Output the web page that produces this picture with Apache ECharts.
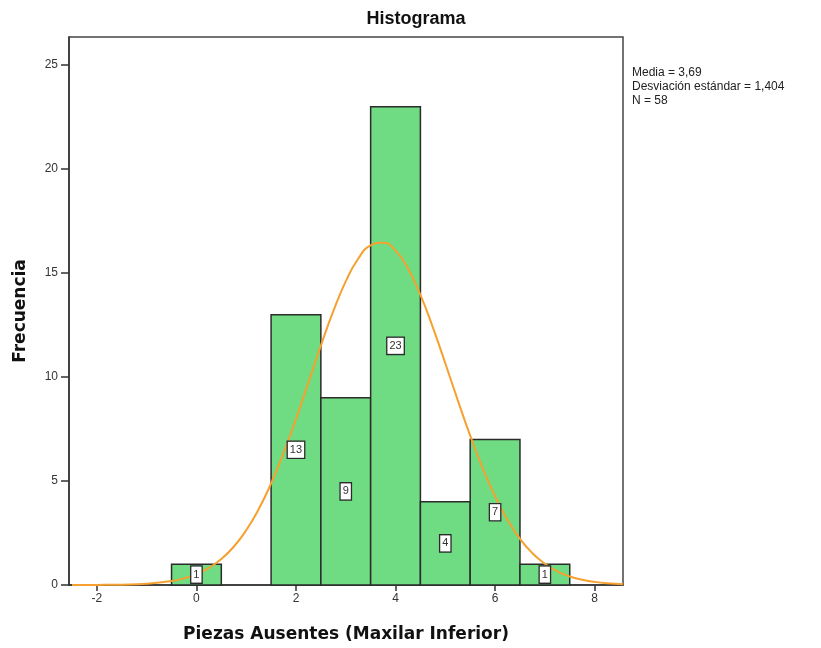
<!DOCTYPE html>
<html>
<head>
<meta charset="utf-8">
<script src="https://cdn.jsdelivr.net/npm/echarts@6/dist/echarts.min.js"></script>
<style>
html,body{margin:0;padding:0;background:#fff;}
#main{width:821px;height:648px;}
</style>
</head>
<body>
<div id="main"></div>
<script>
// Histogram bins (bin centres, width 1) and frequencies
const binCenters = [0, 1, 2, 3, 4, 5, 6, 7];
const frequencies = [1, 0, 13, 9, 23, 4, 7, 1];

// Normal curve
const curveX = [-2.5, -2, -1.5, -1, -0.5, -0.25, 0, 0.25, 0.5, 0.75, 1, 1.25, 1.5, 1.75, 2, 2.25, 2.5, 2.75, 3, 3.25, 3.5, 3.75, 4, 4.25, 4.5, 4.75, 5, 5.25, 5.5, 5.75, 6, 6.25, 6.5, 6.75, 7, 7.25, 7.5, 7.75, 8, 8.25, 8.57];
const curveY = [0.001, 0.005, 0.018, 0.062, 0.19, 0.32, 0.52, 0.82, 1.25, 1.84, 2.63, 3.64, 4.88, 6.35, 7.99, 9.74, 11.51, 13.17, 14.6, 15.69, 16.33, 16.46, 16.08, 15.22, 13.95, 12.39, 10.66, 8.89, 7.18, 5.62, 4.26, 3.13, 2.22, 1.53, 1.02, 0.66, 0.41, 0.25, 0.15, 0.084, 0.035];

// Tick labels
const xTicks = [-2, 0, 2, 4, 6, 8];
const yTicks = [0, 5, 10, 15, 20, 25];

const titleText = 'Histograma';
const xName = 'Piezas Ausentes (Maxilar Inferior)';
const yName = 'Frecuencia';
const statsLines = ['Media = 3,69', 'Desviación estándar = 1,404', 'N = 58'];

const barData = binCenters.map((c, i) => [c, frequencies[i]]);
const curveData = curveX.map((x, i) => [x, curveY[i]]);

const chart = echarts.init(document.getElementById('main'), null, {renderer: 'canvas'});
const font = '"Liberation Sans", Arial, sans-serif';

chart.setOption({
  animation: false,
  backgroundColor: '#fff',
  title: {
    text: titleText,
    left: 411, top: 5, textAlign: 'center',
    textStyle: {fontFamily: font, fontSize: 18, fontWeight: 'bold', color: '#111'}
  },
  grid: {
    left: 69, right: 198, top: 37, bottom: 63,
    show: true, borderColor: '#444', borderWidth: 1.5, backgroundColor: 'transparent'
  },
  xAxis: {
    type: 'value', min: -2.56, max: 8.57,
    name: xName, nameLocation: 'middle', nameGap: 41,
    nameTextStyle: {fontFamily: '"DejaVu Sans", sans-serif', fontSize: 17, fontWeight: 'bold', color: '#111'},
    axisLine: {show: true, onZero: false, lineStyle: {color: '#333', width: 1.5}},
    axisTick: {show: true, length: 6, customValues: xTicks, lineStyle: {color: '#333', width: 1.5}},
    axisLabel: {customValues: xTicks, fontFamily: font, fontSize: 12, color: '#333', margin: 8},
    splitLine: {show: false}
  },
  yAxis: {
    type: 'value', min: 0, max: 26.35,
    name: yName, nameLocation: 'middle', nameGap: 40, nameRotate: 90,
    nameTextStyle: {fontFamily: '"DejaVu Sans", sans-serif', fontSize: 17, fontWeight: 'bold', color: '#111'},
    axisLine: {show: true, onZero: false, lineStyle: {color: '#333', width: 1.5}},
    axisTick: {show: true, length: 8, customValues: yTicks, lineStyle: {color: '#333', width: 1.5}},
    axisLabel: {customValues: yTicks, fontFamily: font, fontSize: 12, color: '#333', margin: 11},
    splitLine: {show: false}
  },
  graphic: [{
    type: 'text', left: 632, top: 66,
    style: {text: statsLines.join('\n'), font: '12px ' + font, fill: '#222', lineHeight: 14}
  }],
  series: [
    {
      type: 'custom', z: 2, data: barData,
      encode: {x: 0, y: 1},
      renderItem: function (params, api) {
        const x = api.value(0), y = api.value(1);
        if (!y) return null;
        const p0 = api.coord([x - 0.5, 0]);
        const p1 = api.coord([x + 0.5, y]);
        return {
          type: 'rect',
          shape: {x: p0[0], y: p1[1], width: p1[0] - p0[0], height: p0[1] - p1[1]},
          style: {fill: '#6fdc84', stroke: '#2b2b2b', lineWidth: 1.5}
        };
      }
    },
    {
      type: 'line', z: 3, data: curveData, smooth: true, showSymbol: false,
      lineStyle: {color: '#f6a030', width: 2}
    },
    {
      type: 'custom', z: 4, data: barData,
      encode: {x: 0, y: 1},
      renderItem: function (params, api) {
        const x = api.value(0), y = api.value(1);
        if (!y) return null;
        const p = api.coord([x, y / 2]);
        return {
          type: 'text', x: p[0], y: p[1],
          style: {
            text: String(y), align: 'center', verticalAlign: 'middle',
            fill: '#333', font: '11px ' + font,
            backgroundColor: '#fff', borderColor: '#2b2b2b', borderWidth: 1.3,
            padding: [3, 2, 2, 2]
          }
        };
      }
    }
  ]
});
</script>
</body>
</html>
